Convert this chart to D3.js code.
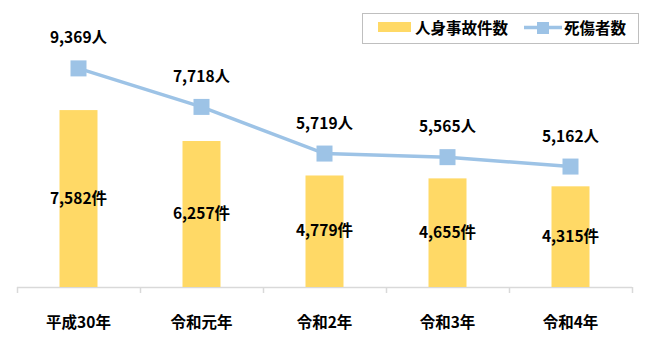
<!DOCTYPE html>
<html><head><meta charset="utf-8">
<script src="https://cdn.jsdelivr.net/npm/d3@7"></script>
<style>body{margin:0;background:#fff;}svg{display:block;font-family:"Noto Sans CJK JP","Noto Sans",sans-serif;}</style>
</head><body><svg id="c" width="650" height="340"></svg>
<script>
const categories = ["平成30年","令和元年","令和2年","令和3年","令和4年"];
const accidents = [7582,6257,4779,4655,4315];
const casualties = [9369,7718,5719,5565,5162];
const seriesNames = ["人身事故件数","死傷者数"];

const barColor = "#ffd966", lineColor = "#9dc3e6", markerColor = "#9dc3e6";
const svg = d3.select("#c");
const x = d3.scaleBand().domain(categories).range([17, 632]).paddingInner(0).paddingOuter(0);
const y = d3.scaleLinear().domain([0, 12000]).range([287, 7]);
const fmt = d3.format(",");
const fs = 15.5;

// axis
const ax = svg.append("g").attr("transform","translate(0,287)")
  .call(d3.axisBottom(x).tickSize(0).tickPadding(0));
ax.select(".domain").remove();
ax.selectAll("text").remove();
svg.append("line").attr("x1",17).attr("x2",632).attr("y1",287.5).attr("y2",287.5)
  .attr("stroke","#d9d9d9").attr("stroke-width",1.5);
const bounds = categories.map(c=>x(c)).concat([x(categories[categories.length-1])+x.bandwidth()]);
svg.selectAll("line.tk").data(bounds).enter().append("line")
  .attr("x1",d=>Math.round(d)+0.5).attr("x2",d=>Math.round(d)+0.5).attr("y1",287).attr("y2",293)
  .attr("stroke","#d9d9d9").attr("stroke-width",1.5);
svg.selectAll("text.cat").data(categories).enter().append("text")
  .attr("x",d=>x(d)+x.bandwidth()/2).attr("y",328).attr("text-anchor","middle")
  .attr("font-size",fs).attr("font-weight","bold").attr("fill","#000").text(d=>d);

// bars
const bw = 38;
svg.selectAll("rect.bar").data(accidents).enter().append("rect")
  .attr("x",(d,i)=>x(categories[i])+x.bandwidth()/2-bw/2).attr("width",bw)
  .attr("y",d=>y(d)).attr("height",d=>y(0)-y(d)).attr("fill",barColor);
svg.selectAll("text.bl").data(accidents).enter().append("text")
  .attr("x",(d,i)=>x(categories[i])+x.bandwidth()/2).attr("y",d=>(y(d)+y(0))/2+5)
  .attr("text-anchor","middle").attr("font-size",fs).attr("font-weight","bold").attr("fill","#000")
  .text(d=>fmt(d)+"件");

// line
const line = d3.line().x((d,i)=>x(categories[i])+x.bandwidth()/2).y(d=>y(d));
svg.append("path").datum(casualties).attr("d",line).attr("fill","none")
  .attr("stroke",lineColor).attr("stroke-width",3.5);
const ms = 16;
svg.selectAll("rect.mk").data(casualties).enter().append("rect")
  .attr("x",(d,i)=>x(categories[i])+x.bandwidth()/2-ms/2).attr("y",d=>y(d)-ms/2)
  .attr("width",ms).attr("height",ms).attr("fill",markerColor);
svg.selectAll("text.ll").data(casualties).enter().append("text")
  .attr("x",(d,i)=>x(categories[i])+x.bandwidth()/2).attr("y",d=>y(d)-25)
  .attr("text-anchor","middle").attr("font-size",fs).attr("font-weight","bold").attr("fill","#000")
  .text(d=>fmt(d)+"人");

// legend
const lg = svg.append("g");
lg.append("rect").attr("x",362.5).attr("y",13.5).attr("width",276).attr("height",30)
  .attr("fill","#fff").attr("stroke","#bfbfbf").attr("stroke-width",1);
lg.append("rect").attr("x",378).attr("y",22).attr("width",33).attr("height",10).attr("fill",barColor);
lg.append("text").attr("x",415).attr("y",33.5).attr("font-size",fs).attr("font-weight","bold").text(seriesNames[0]);
lg.append("line").attr("x1",524).attr("x2",562).attr("y1",27.5).attr("y2",27.5).attr("stroke",lineColor).attr("stroke-width",3.5);
lg.append("rect").attr("x",537).attr("y",22).attr("width",12).attr("height",12).attr("fill",markerColor);
lg.append("text").attr("x",564).attr("y",33.5).attr("font-size",fs).attr("font-weight","bold").text(seriesNames[1]);
</script></body></html>
